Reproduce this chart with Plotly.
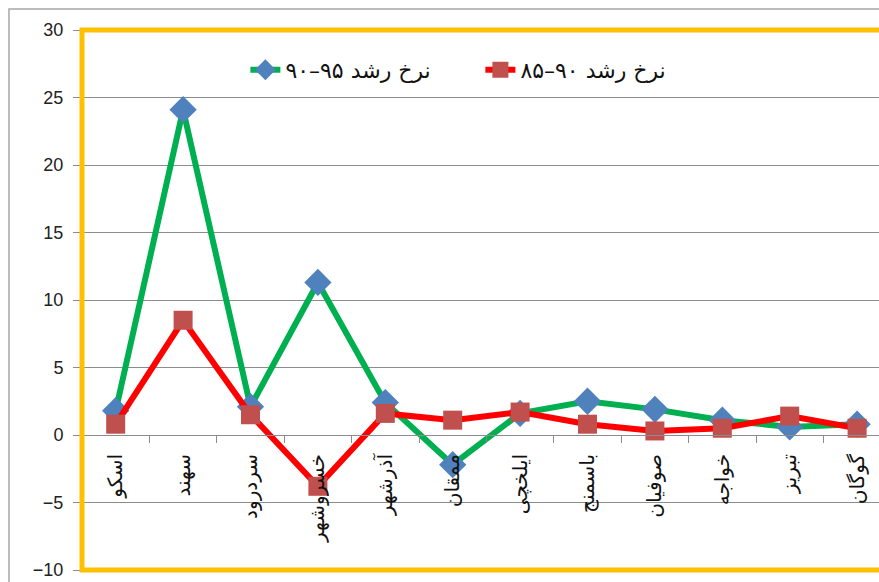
import plotly.graph_objects as go

categories = ["اسکو", "سهند", "سردرود", "خسروشهر", "آذرشهر", "ممقان",
              "ایلخچی", "باسمنج", "صوفیان", "خواجه", "تبریز", "گوگان"]
growth_90_95 = [1.8, 24.1, 2.1, 11.3, 2.4, -2.2, 1.6, 2.5, 1.9, 1.1, 0.6, 0.8]
growth_85_90 = [0.8, 8.5, 1.5, -3.8, 1.6, 1.1, 1.7, 0.8, 0.3, 0.5, 1.4, 0.5]
name_90_95 = "۹۰–۹۵ نرخ رشد"
name_85_90 = "۸۵–۹۰ نرخ رشد"
y_ticks = [-10, -5, 0, 5, 10, 15, 20, 25, 30]

fig = go.Figure()
fig.add_trace(go.Scatter(
    x=categories, y=growth_90_95, name=name_90_95, mode="lines+markers",
    line=dict(color="#00B050", width=6),
    marker=dict(symbol="diamond", size=21, color="#4F81BD"),
))
fig.add_trace(go.Scatter(
    x=categories, y=growth_85_90, name=name_85_90, mode="lines+markers",
    line=dict(color="#FF0000", width=6),
    marker=dict(symbol="square", size=19, color="#C0504D"),
))

fig.update_layout(
    width=879, height=582,
    margin=dict(l=82, r=0, t=30, b=12),
    paper_bgcolor="white", plot_bgcolor="white",
    showlegend=True,
    legend=dict(orientation="h", x=0.205, y=0.926, xanchor="left", yanchor="middle",
                font=dict(family="DejaVu Sans", size=22, color="#111"),
                bgcolor="rgba(0,0,0,0)", entrywidth=190, entrywidthmode="pixels"),
    xaxis=dict(type="category", range=[-0.5, 11.325], anchor="free", position=0.25,
               showline=True, linecolor="#8c8c8c", linewidth=1,
               ticks="outside", ticklen=7, tickcolor="#8c8c8c", tickson="boundaries",
               tickangle=-90, showgrid=False, zeroline=False, ticklabelstandoff=10,
               tickfont=dict(family="DejaVu Sans", size=20, color="#111")),
    yaxis=dict(range=[-10, 30], tickvals=y_ticks, ticks="outside", ticklen=8,
               tickcolor="#8c8c8c", showgrid=True, gridcolor="#8c8c8c", gridwidth=1,
               zeroline=False, showline=False, ticklabelstandoff=6,
               tickfont=dict(family="Liberation Sans", size=18, color="#222")),
    shapes=[
        dict(type="rect", xref="paper", yref="paper", x0=0, x1=1.05, y0=0, y1=1,
             line=dict(color="#FFC000", width=5), layer="above"),
        dict(type="rect", xref="paper", yref="paper", x0=-0.0916, x1=1.1, y0=-0.1, y1=1.0389,
             line=dict(color="#a6a6a6", width=1.5), layer="above"),
    ],
)

fig.write_html("out.html")
